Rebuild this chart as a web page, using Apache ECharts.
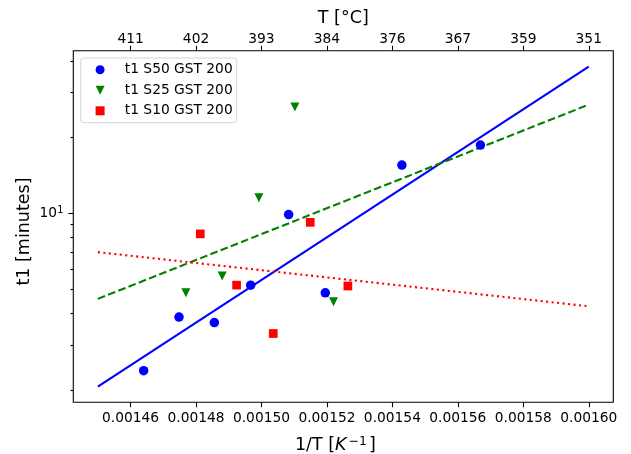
<!DOCTYPE html>
<html><head><meta charset="utf-8">
<script src="https://cdn.jsdelivr.net/npm/echarts@6/dist/echarts.min.js"></script>
<style>html,body{margin:0;padding:0;background:#fff}#c{width:631px;height:454px}</style>
</head><body><div id="c"></div>
<script>
// ---- data ----
const seriesNames = ['t1 S50 GST 200', 't1 S25 GST 200', 't1 S10 GST 200'];
const invT_S50 = [0.0014640, 0.0014748, 0.0014856, 0.0014967, 0.0015083, 0.0015195, 0.0015429, 0.0015669];
const t1_S50   = [2.38, 3.88, 3.69, 5.19, 9.87, 4.84, 15.5, 18.6];
const invT_S25 = [0.0014769, 0.0014880, 0.0014992, 0.0015102, 0.0015220];
const t1_S25   = [4.84, 5.64, 11.5, 26.3, 4.46];
const invT_S10 = [0.0014813, 0.0014924, 0.0015036, 0.0015149, 0.0015264];
const t1_S10   = [8.28, 5.19, 3.34, 9.20, 5.15];
const fitInvT  = [0.00145, 0.00160];
const fit_S50  = [2.06, 38.0];
const fit_S25  = [4.58, 26.9];
const fit_S10  = [7.01, 4.28];
const xTicks = [0.00146, 0.00148, 0.00150, 0.00152, 0.00154, 0.00156, 0.00158, 0.00160];
const yMajorTicks = [10];
const yMinorTicks = [2, 3, 4, 5, 6, 7, 8, 9, 20, 30, 40];

const FONT = 'DejaVu Sans';
const pairs = (xs, ys) => xs.map((x, i) => [x, ys[i]]);
const triPath = 'path://M0,0L2,0L1,2Z';
const sqPath = 'path://M0,0L1,0L1,1L0,1Z';
const xMin = 0.0014425, xMax = 0.0016075;
const yMin = 1.784, yMax = 43.97;

const chart = echarts.init(document.getElementById('c'), null, {renderer: 'canvas'});
const tickStyle = {color: '#000', width: 1.1};
chart.setOption({
  animation: false,
  backgroundColor: '#fff',
  textStyle: {fontFamily: FONT},
  grid: {left: 73.3, right: 17.7, top: 50.7, bottom: 51.7, containLabel: false, outerBoundsMode: 'none',
         show: true, borderColor: '#000', borderWidth: 1.1, backgroundColor: 'transparent'},
  legend: {
    orient: 'vertical', left: 80.7, top: 58,
    padding: [4.8, 4, 4.8, 14.9],
    itemWidth: 20, itemHeight: 9, itemGap: 6.5,
    backgroundColor: 'rgba(255,255,255,0.8)', borderColor: 'rgba(204,204,204,0.8)', borderWidth: 1, borderRadius: 3,
    textStyle: {fontFamily: FONT, fontSize: 13.8, color: '#000', lineHeight: 14, padding: [0, 0, 0, 9.7]},
    data: [
      {name: seriesNames[0], icon: 'circle'},
      {name: seriesNames[1], icon: triPath},
      {name: seriesNames[2], icon: sqPath}
    ]
  },
  xAxis: [
    {type: 'value', position: 'bottom', min: xMin, max: xMax,
     name: '1/T [{k|K}{s|−1}]', nameLocation: 'middle', nameGap: 33,
     nameTextStyle: {fontFamily: FONT, fontSize: 17.5, color: '#000', lineHeight: 21, padding: [0, 16, 0, 0],
       rich: {
         k: {fontFamily: FONT, fontSize: 17.5, fontStyle: 'italic', color: '#000', lineHeight: 21, padding: [0, 1, 0, 0]},
         s: {fontFamily: FONT, fontSize: 12.5, color: '#000', lineHeight: 13, verticalAlign: 'top', padding: [0, 2, 0, 1]}
       }},
     axisLine: {show: false}, splitLine: {show: false},
     axisTick: {show: true, length: 4.9, lineStyle: tickStyle, customValues: xTicks},
     axisLabel: {show: true, customValues: xTicks, margin: 9, color: '#000', fontFamily: FONT, fontSize: 13.8,
                 formatter: v => v.toFixed(5)}},
    {type: 'value', position: 'top', min: xMin, max: xMax,
     name: 'T [°C]', nameLocation: 'middle', nameGap: 20,
     nameTextStyle: {fontFamily: FONT, fontSize: 17.5, color: '#000'},
     axisLine: {show: false}, splitLine: {show: false},
     axisTick: {show: true, length: 4.9, lineStyle: tickStyle, customValues: xTicks},
     axisLabel: {show: true, customValues: xTicks, margin: 4.5, color: '#000', fontFamily: FONT, fontSize: 13.8,
                 formatter: v => String(Math.floor(1 / v - 273.15))}}
  ],
  yAxis: [
    {type: 'log', logBase: 10, position: 'left', min: yMin, max: yMax,
     name: 't1 [minutes]', nameLocation: 'middle', nameGap: 39.5, nameRotate: 90, nameMoveOverlap: false,
     nameTextStyle: {fontFamily: FONT, fontSize: 17.5, color: '#000', padding: [0, 10, 0, 0]},
     axisLine: {show: false}, splitLine: {show: false}, minorTick: {show: false},
     axisTick: {show: true, length: 4.9, lineStyle: tickStyle, customValues: yMajorTicks},
     axisLabel: {show: true, customValues: yMajorTicks, margin: 10, color: '#000', fontFamily: FONT, fontSize: 13.8,
                 lineHeight: 16,
                 rich: {s: {fontFamily: FONT, fontSize: 9.7, color: '#000', lineHeight: 10, verticalAlign: 'top'}},
                 formatter: v => '10{s|1}'}},
    {type: 'log', logBase: 10, position: 'left', offset: 0, min: yMin, max: yMax,
     axisLine: {show: false}, splitLine: {show: false}, minorTick: {show: false},
     axisTick: {show: true, length: 2.8, lineStyle: tickStyle, customValues: yMinorTicks},
     axisLabel: {show: false}}
  ],
  series: [
    {type: 'line', data: pairs(fitInvT, fit_S50), xAxisIndex: 0, yAxisIndex: 0, symbol: 'none', z: 2,
     lineStyle: {color: '#0000ff', width: 2.1, type: 'solid'}},
    {type: 'line', data: pairs(fitInvT, fit_S25), xAxisIndex: 0, yAxisIndex: 0, symbol: 'none', z: 2,
     lineStyle: {color: '#008000', width: 2.1, type: [7.7, 3.3], cap: 'butt'}},
    {type: 'line', data: pairs(fitInvT, fit_S10), xAxisIndex: 0, yAxisIndex: 0, symbol: 'none', z: 2,
     lineStyle: {color: '#ff0000', width: 2.1, type: [2.1, 3.4], cap: 'butt'}},
    {name: seriesNames[0], type: 'scatter', data: pairs(invT_S50, t1_S50), symbol: 'circle', symbolSize: 9.5, z: 3,
     itemStyle: {color: '#0000ff', opacity: 1}},
    {name: seriesNames[1], type: 'scatter', data: pairs(invT_S25, t1_S25), symbol: triPath, symbolSize: 9, z: 3,
     itemStyle: {color: '#008000', opacity: 1}},
    {name: seriesNames[2], type: 'scatter', data: pairs(invT_S10, t1_S10), symbol: sqPath, symbolSize: 8.7, z: 3,
     itemStyle: {color: '#ff0000', opacity: 1}}
  ]
});
</script></body></html>
